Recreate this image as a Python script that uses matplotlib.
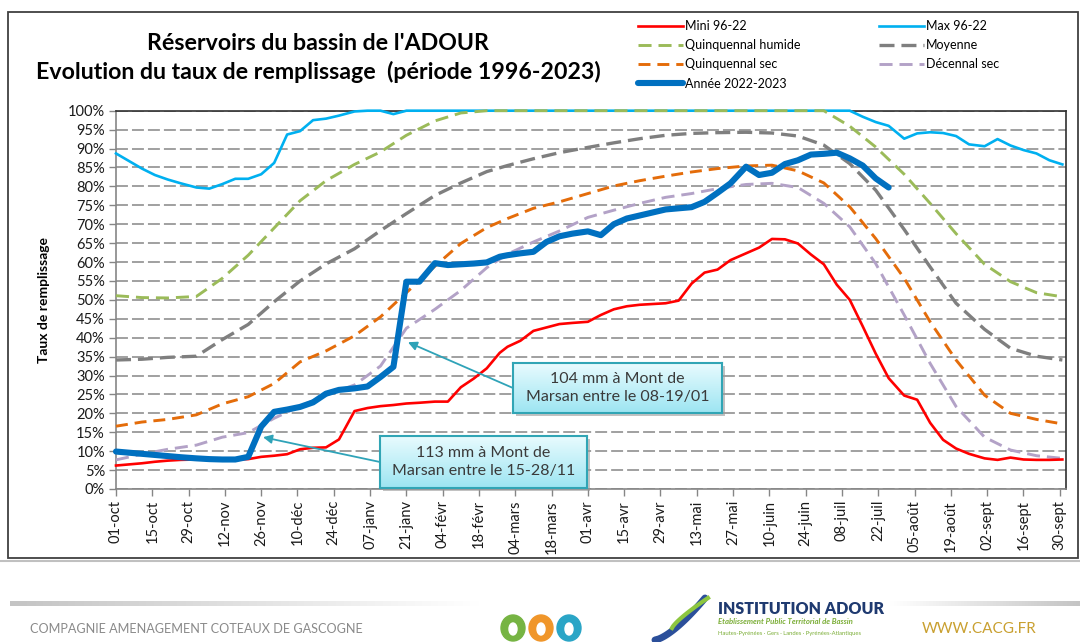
import numpy as np
import matplotlib
matplotlib.use('Agg')
from matplotlib import pyplot, patches, lines
from matplotlib.colors import LinearSegmentedColormap

pyplot.rcParams['font.family'] = ['Lato', 'DejaVu Sans']
pyplot.rcParams['lines.scale_dashes'] = False

W, H = 1080, 642

# days since 01-oct, data on the 1st, 6th, 11th, 16th, 21st and 26th of each month
DAYS = [0, 5, 10, 15, 20, 25, 31, 36, 41, 46, 51, 56, 61, 66, 71, 76, 81, 86,
        92, 97, 102, 107, 112, 117, 123, 128, 133, 138, 143, 148,
        151, 156, 161, 166, 171, 176, 182, 187, 192, 197, 202, 207,
        212, 217, 222, 227, 232, 237, 243, 248, 253, 258, 263, 268,
        273, 278, 283, 288, 293, 298, 304, 309, 314, 319, 324, 329,
        335, 340, 345, 350, 355, 360, 365]
# statistics on the 1st, 11th and 21st of each month
DAYS_STAT = [0, 10, 20, 31, 41, 51, 61, 71, 81, 92, 102, 112, 123, 133, 143,
             151, 161, 171, 182, 192, 202, 212, 222, 232, 243, 253, 263,
             273, 283, 293, 304, 314, 324, 335, 345, 355, 365]

MINI = [6.2, 6.5, 6.8, 7.2, 7.5, 7.7,
        7.8, 7.8, 7.8, 7.8, 7.9, 8.5,
        8.8, 9.2, 10.5, 10.9, 11.0, 13.1,
        20.6, 21.4, 21.9, 22.2, 22.6, 22.8,
        23.1, 23.1, 26.9, 29.2, 31.9, 36.0,
        37.6, 39.2, 41.8, 42.7, 43.6, 43.9,
        44.2, 46.0, 47.5, 48.3, 48.7, 48.9,
        49.1, 49.8, 54.3, 57.2, 58.0, 60.5,
        62.3, 63.8, 66.1, 66.0, 64.9, 62.0,
        59.4, 54.0, 50.0, 43.0, 35.8, 29.3,
        24.7, 23.6, 17.5, 13.0, 10.7, 9.3,
        8.1, 7.7, 8.3, 7.8, 7.7, 7.7, 7.8]
MAXI = [88.7, 86.7, 84.7, 83.0, 81.8, 80.8,
        79.7, 79.4, 80.6, 82.0, 82.0, 83.2,
        86.2, 93.7, 94.6, 97.5, 97.9, 98.7,
        99.8, 100, 100, 99.1, 100, 100,
        100, 100, 100, 100, 100, 100,
        100, 100, 100, 100, 100, 100,
        100, 100, 100, 100, 100, 100,
        100, 100, 100, 100, 100, 100,
        100, 100, 100, 100, 100, 100,
        100, 100, 100, 98.4, 97.0, 96.0,
        92.6, 94.0, 94.3, 94.1, 93.3, 91.1,
        90.6, 92.5, 90.8, 89.6, 88.7, 86.9, 85.8]
ANNEE = [9.9, 9.6, 9.3, 9.0, 8.7, 8.4,
         8.1, 7.9, 7.8, 7.8, 8.5, 16.5,
         20.4, 21.0, 21.7, 22.9, 25.2, 26.2,
         26.6, 27.1, 29.6, 32.3, 54.8, 54.8,
         59.7, 59.2, 59.4, 59.6, 59.9, 61.4,
         61.8, 62.3, 62.7, 65.3, 66.8, 67.5,
         68.1, 67.1, 70.0, 71.5, 72.3, 73.1,
         73.9, 74.2, 74.5, 75.9, 78.3, 80.8,
         85.2, 83.0, 83.6, 85.9, 86.9, 88.4,
         88.6, 88.9, 87.4, 85.5, 82.1, 79.7]
Q_HUMIDE = [51.1, 50.6, 50.5, 50.9, 55.7, 61.8, 69.0, 76.2, 81.5,
            85.8, 89.1, 93.5, 97.3, 99.4, 100, 100, 100, 100, 100,
            100, 100, 100, 100, 100, 100, 100, 100, 100,
            95.9, 90.4, 83.2, 75.5, 67.5, 59.4, 54.8, 51.9, 50.8]
MOYENNE = [34.1, 34.3, 34.8, 35.1, 39.5, 43.5, 49.5, 55.0, 59.5,
           63.5, 68.3, 72.8, 77.6, 80.9, 83.9, 85.5, 87.3, 88.9, 90.3,
           91.5, 92.6, 93.5, 94.0, 94.2, 94.3, 94.1, 93.3, 90.9,
           86.0, 79.0, 68.6, 58.7, 49.1, 42.2, 37.2, 35.1, 34.1]
Q_SEC = [16.6, 17.7, 18.4, 19.6, 22.5, 24.4, 27.9, 33.6, 36.5,
         40.5, 45.5, 51.9, 58.9, 64.9, 69.1, 71.5, 74.2, 75.9, 78.1,
         80.1, 81.5, 82.7, 83.8, 84.7, 85.4, 85.6, 84.1, 80.9,
         74.6, 66.2, 55.7, 44.2, 34.1, 24.8, 20.0, 18.4, 17.2]
D_SEC = [7.7, 9.2, 10.5, 11.6, 13.7, 14.9, 18.7, 21.9, 24.8,
         27.5, 32.5, 42.5, 47.5, 52.5, 58.5, 62.1, 65.3, 68.2, 71.8,
         73.7, 75.5, 77.1, 78.1, 79.4, 80.5, 80.8, 79.7, 75.5,
         69.3, 59.6, 46.0, 33.2, 21.8, 13.7, 10.3, 8.8, 8.1]

TICK_LABELS = ['01-oct', '15-oct', '29-oct', '12-nov', '26-nov', '10-déc',
               '24-déc', '07-janv', '21-janv', '04-févr', '18-févr', '04-mars',
               '18-mars', '01-avr', '15-avr', '29-avr', '13-mai', '27-mai',
               '10-juin', '24-juin', '08-juil', '22-juil', '05-août',
               '19-août', '02-sept', '16-sept', '30-sept']

NOTE_JANV = "104 mm à Mont de\nMarsan entre le 08-19/01"
NOTE_NOV = "113 mm à Mont de\nMarsan entre le 15-28/11"


def fig_xy(x, y):
    # pixel position measured from the top-left corner -> figure fraction
    return x / W, 1 - y / H


fig = pyplot.figure(figsize=(W / 100, H / 100), dpi=100)

# outer frame of the chart
fig.add_artist(patches.Rectangle(fig_xy(8, 558), 1070 / W, 546 / H,
                                 transform=fig.transFigure, fill=False,
                                 edgecolor='#404040', lw=1.3))

ax = fig.add_axes([116 / W, 1 - 489 / H, 950 / W, 378.3 / H])
ax.set_xlim(0, 366.4)
ax.set_ylim(0, 100)

ax.set_yticks(np.arange(0, 101, 5))
ax.set_yticklabels(['{}%'.format(v) for v in range(0, 101, 5)])
ax.set_xticks(np.arange(len(TICK_LABELS)) * 14)
ax.set_xticklabels(TICK_LABELS, rotation=90)
ax.tick_params(direction='out', length=5, width=1, color='#868686',
               labelsize=10.5, labelcolor='#1a1a1a', pad=3)
ax.set_axisbelow(True)
ax.yaxis.grid(True, color='#a0a0a0', lw=1.4, linestyle=(0, (8.6, 2.9)))
for side in ('left', 'bottom'):
    ax.spines[side].set_color('#868686')
    ax.spines[side].set_linewidth(1.2)
for side in ('top', 'right'):
    ax.spines[side].set_color('#303030')
    ax.spines[side].set_linewidth(1.2)

ax.set_ylabel('Taux de remplissage', fontsize=10, fontweight='bold', labelpad=13)

h_mini, = ax.plot(DAYS, MINI, color='#ff0000', lw=1.9, clip_on=False, zorder=4)
h_maxi, = ax.plot(DAYS, MAXI, color='#00b0f0', lw=1.9, clip_on=False, zorder=3)
h_qh, = ax.plot(DAYS_STAT, Q_HUMIDE, color='#9bbb59', lw=2.1, clip_on=False,
                linestyle=(0, (9.4, 5)), zorder=3)
h_moy, = ax.plot(DAYS_STAT, MOYENNE, color='#7f7f7f', lw=2.4, clip_on=False,
                 linestyle=(0, (10.8, 5)), zorder=3)
h_qs, = ax.plot(DAYS_STAT, Q_SEC, color='#e46c0a', lw=2.1, clip_on=False,
                linestyle=(0, (8.6, 5)), zorder=3)
h_ds, = ax.plot(DAYS_STAT, D_SEC, color='#b3a2c7', lw=2.1, clip_on=False,
                linestyle=(0, (9.4, 5)), zorder=3)
h_an, = ax.plot(DAYS[:len(ANNEE)], ANNEE, color='#0070c0', lw=4.4,
                solid_capstyle='round', clip_on=False, zorder=5)

fig.text(*fig_xy(318, 43), "Réservoirs du bassin de l'ADOUR", ha='center',
         va='center', fontsize=16.7, fontweight='bold')
fig.text(*fig_xy(318, 72), "Evolution du taux de remplissage  (période 1996-2023)",
         ha='center', va='center', fontsize=16.7, fontweight='bold')

# legend, filled row by row
handles = [h_mini, h_qh, h_qs, h_an, h_maxi, h_moy, h_ds]
labels = ['Mini 96-22', 'Quinquennal humide', 'Quinquennal sec',
          'Année 2022-2023', 'Max 96-22', 'Moyenne', 'Décennal sec']
fig.legend(handles, labels, loc='upper left', bbox_to_anchor=fig_xy(638, 20),
           ncol=2, frameon=False, fontsize=9, handlelength=3.6,
           handletextpad=0.15, columnspacing=6.3, labelspacing=0.58,
           borderpad=0, borderaxespad=0)

# callouts about the rain events
box_cmap = LinearSegmentedColormap.from_list('box', ['#e8fbfe', '#9de5f2'])


def callout(x0, y0, x1, y1, text, target):
    shadow = patches.Rectangle(fig_xy(x0 + 3, y1 + 3), (x1 - x0) / W,
                               (y1 - y0) / H, transform=fig.transFigure,
                               color='#9a9a9a', alpha=0.6, lw=0, zorder=1)
    fig.add_artist(shadow)
    ax.annotate('', xy=target, xycoords='data',
                xytext=(x0, H - (y0 + y1) / 2), textcoords='figure pixels',
                arrowprops=dict(arrowstyle='-|>', color='#2fa3b8', lw=1.3,
                                mutation_scale=13, shrinkA=0, shrinkB=0),
                zorder=6, annotation_clip=False)
    bax = fig.add_axes([x0 / W, 1 - y1 / H, (x1 - x0) / W, (y1 - y0) / H])
    bax.set_zorder(2)
    bax.imshow(np.linspace(0, 1, 64)[:, None], aspect='auto', cmap=box_cmap,
               extent=(0, 1, 0, 1))
    bax.set_xticks([])
    bax.set_yticks([])
    for sp in bax.spines.values():
        sp.set_color('#31a5b5')
        sp.set_linewidth(1.5)
    bax.text(0.5, 0.5, text, ha='center', va='center', fontsize=11.5,
             color='#3a3a3a', linespacing=1.35, transform=bax.transAxes)


callout(513, 363, 722, 413, NOTE_JANV, (112.6, 38.8))
callout(380, 436, 587, 488, NOTE_NOV, (56.7, 13.7))

# footer
fig.add_artist(lines.Line2D([0, 1], [1 - 561 / H] * 2, color='#c0c0c0', lw=1.5,
                            transform=fig.transFigure))


def grey_bar(x0, x1, y, fade):
    bx = fig.add_axes([x0 / W, 1 - (y + 2.5) / H, (x1 - x0) / W, 5 / H])
    ramp = np.linspace(0, 1, 200)[None, :]
    if fade == 'left':
        ramp = ramp[:, ::-1]
    cm = LinearSegmentedColormap.from_list('g', ['#c4c4c4', '#ffffff'])
    bx.imshow(ramp, aspect='auto', cmap=cm, extent=(0, 1, 0, 1))
    bx.set_axis_off()


grey_bar(10, 480, 603, 'right')
grey_bar(890, 1080, 603, 'left')

fig.text(*fig_xy(30, 629), 'COMPAGNIE AMENAGEMENT COTEAUX DE GASCOGNE',
         fontsize=9.1, color='#8a8a8a', va='center', ha='left')
for cx, col in zip((513, 541, 569), ('#76b443', '#f0962a', '#2aa5c6')):
    fig.add_artist(patches.Ellipse(fig_xy(cx, 628), 24 / W, 26 / H,
                                   transform=fig.transFigure, color=col))
    fig.add_artist(patches.Ellipse(fig_xy(cx, 629), 8 / W, 12 / H,
                                   transform=fig.transFigure, color='white'))
# institution logo swoosh
t = np.linspace(0, 1, 40)
fig.add_artist(lines.Line2D((655 + 50 * t ** 0.7) / W,
                            1 - (640 - 42 * t) / H, color='#2b4f9a', lw=5,
                            transform=fig.transFigure, solid_capstyle='round'))
fig.add_artist(lines.Line2D((672 + 36 * t) / W,
                            1 - (628 - 30 * t ** 0.8) / H, color='#8dc63f',
                            lw=3, transform=fig.transFigure))
fig.text(*fig_xy(718, 609), 'INSTITUTION ADOUR', fontsize=11.5,
         fontweight='heavy', color='#1f3a70', va='center', ha='left')
fig.text(*fig_xy(718, 622), 'Etablissement Public Territorial de Bassin',
         fontsize=5.6, fontweight='bold', style='italic', color='#7aad35',
         va='center', ha='left')
fig.text(*fig_xy(718, 633), 'Hautes-Pyrénées · Gers · Landes · Pyrénées-Atlantiques',
         fontsize=4.2, color='#7aad35', va='center', ha='left')
fig.text(*fig_xy(922, 629), 'WWW.CACG.FR', fontsize=11, color='#c9a030',
         va='center', ha='left')

fig.savefig('out.png', dpi=100, facecolor='white')
